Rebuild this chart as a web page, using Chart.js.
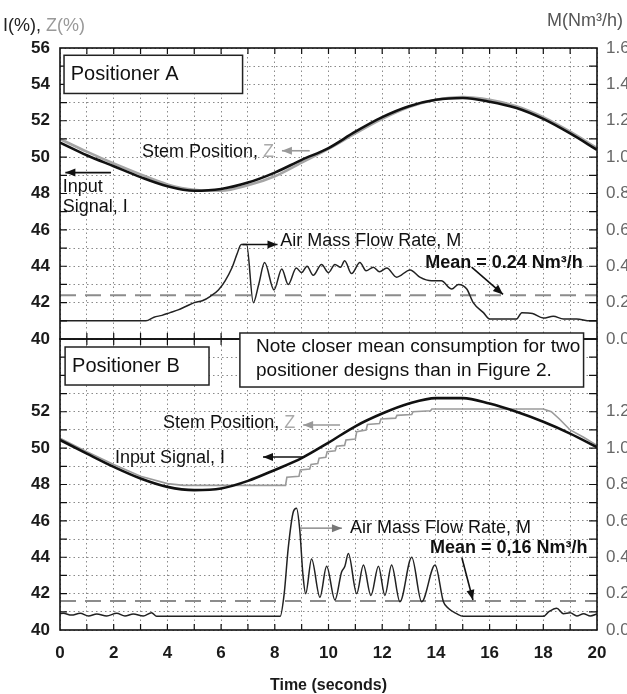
<!DOCTYPE html>
<html>
<head>
<meta charset="utf-8">
<script src="https://cdn.jsdelivr.net/npm/chart.js@4.4.1/dist/chart.umd.min.js"></script>
<style>
  html, body { margin: 0; padding: 0; background: #fff; overflow: hidden; }
  #wrap { position: relative; width: 640px; height: 694px; }
</style>
</head>
<body>
<div id="wrap"><canvas id="chart"></canvas></div>
<script>
// time axis, seconds
const tSec = [0,1,2,3,4,5,6,7,8,9,10,11,12,13,14,15,16,17,18,19,20];

// Positioner A: input signal I and stem position Z (%)
const inputA = [50.8,50.1,49.5,48.9,48.4,48.15,48.25,48.6,49.15,49.85,50.5,51.4,52.2,52.8,53.15,53.25,53.05,52.7,52.1,51.3,50.4];
const stemA  = [51.0,50.3,49.65,49.05,48.5,48.2,48.15,48.45,48.95,49.7,50.45,51.3,52.1,52.75,53.15,53.3,53.15,52.8,52.2,51.4,50.5];

// Positioner A: air mass flow rate M (Nm3/h)
const flowTimeA = [0,3.2,3.5,3.8,4.1,4.4,4.7,5.0,5.3,5.6,5.9,6.15,6.4,6.6,6.75,6.95,7.2,7.4,7.62,7.97,8.26,8.5,8.8,9.0,9.2,9.43,9.74,10.0,10.24,10.45,10.6,10.86,11.17,11.4,11.67,11.9,12.17,12.54,13.04,13.4,13.84,14.2,14.59,14.84,15.15,15.39,15.77,16.0,17.0,17.2,17.6,18.0,18.37,18.75,19.24,19.74,20];
const flowA     = [0.10,0.10,0.12,0.13,0.145,0.16,0.18,0.20,0.21,0.235,0.27,0.32,0.39,0.47,0.52,0.52,0.20,0.30,0.42,0.27,0.385,0.30,0.39,0.365,0.40,0.35,0.41,0.365,0.41,0.395,0.43,0.36,0.42,0.375,0.395,0.37,0.39,0.34,0.38,0.34,0.32,0.32,0.275,0.30,0.275,0.20,0.145,0.11,0.11,0.145,0.14,0.115,0.125,0.11,0.11,0.10,0.10];
const meanA = 0.24;

// Positioner B: input signal I (%)
const inputB = [50.45,49.7,48.97,48.33,47.87,47.69,47.78,48.2,48.8,49.45,50.3,51.2,51.9,52.45,52.75,52.75,52.45,52.0,51.45,50.8,50.05];

// Positioner B: stem position Z (%), stepwise
const stemTimeB = [0,1,2,3,4,4.6,8.4,8.45,8.9,8.95,9.3,9.35,9.6,9.65,9.9,9.95,10.25,10.3,10.6,10.65,11.0,11.05,11.4,11.45,11.9,11.95,12.5,12.55,13.1,13.15,13.8,13.85,18.0,18.3,18.6,19.0,19.5,20];
const stemB     = [50.55,49.8,49.1,48.45,48.05,47.95,47.95,48.4,48.45,48.8,48.85,49.1,49.15,49.45,49.5,49.8,49.85,50.1,50.15,50.45,50.5,50.9,51.0,51.3,51.35,51.6,51.65,51.8,51.85,52.0,52.05,52.15,52.15,52.0,51.6,51.0,50.6,50.15];

// Positioner B: air mass flow rate M (Nm3/h)
const flowTimeB = [0,0.12,0.43,0.75,1.06,1.37,1.74,2.11,2.42,2.73,3.1,3.41,3.6,8.2,8.35,8.5,8.69,8.81,8.93,9.05,9.15,9.37,9.68,9.93,10.24,10.49,10.61,10.74,11.05,11.3,11.58,11.86,12.1,12.35,12.66,13.1,13.47,13.97,14.28,14.46,14.77,15.02,18.0,18.2,18.5,18.75,19.0,19.25,19.5,19.75,20];
const flowB     = [0.09,0.092,0.082,0.092,0.077,0.088,0.077,0.092,0.077,0.088,0.077,0.095,0.075,0.075,0.20,0.45,0.65,0.67,0.55,0.30,0.20,0.39,0.18,0.35,0.165,0.32,0.35,0.42,0.20,0.357,0.19,0.35,0.19,0.357,0.155,0.40,0.155,0.357,0.155,0.12,0.09,0.075,0.075,0.10,0.12,0.09,0.095,0.077,0.09,0.077,0.088];
const meanB = 0.16;

const W = 640;
const FONT = "'Liberation Sans', Arial, sans-serif";
const pts = (xs, ys) => xs.map((x, i) => ({x: x, y: ys[i]}));

const lineBase = {pointRadius: 0, fill: false};
const datasets = [
  Object.assign({data: pts(tSec, inputA), yAxisID: 'yA', borderColor: '#111', borderWidth: 2.6, cubicInterpolationMode: 'monotone', order: 1}, lineBase),
  Object.assign({data: pts(tSec, stemA), yAxisID: 'yA', borderColor: '#a5a5a5', borderWidth: 2.6, cubicInterpolationMode: 'monotone', order: 2}, lineBase),
  Object.assign({data: pts(flowTimeA, flowA), yAxisID: 'mA', borderColor: '#222', borderWidth: 1.5, cubicInterpolationMode: 'monotone', order: 0}, lineBase),
  Object.assign({data: [{x: 0, y: meanA}, {x: 20, y: meanA}], yAxisID: 'mA', borderColor: '#8c8c8c', borderWidth: 2, borderDash: [16, 9], order: 3}, lineBase),
  Object.assign({data: pts(tSec, inputB), yAxisID: 'yB', borderColor: '#111', borderWidth: 2.6, cubicInterpolationMode: 'monotone', order: 1}, lineBase),
  Object.assign({data: pts(stemTimeB, stemB), yAxisID: 'yB', borderColor: '#9a9a9a', borderWidth: 1.6, order: 2}, lineBase),
  Object.assign({data: pts(flowTimeB, flowB), yAxisID: 'mB', borderColor: '#222', borderWidth: 1.5, cubicInterpolationMode: 'monotone', order: 0}, lineBase),
  Object.assign({data: [{x: 0, y: meanB}, {x: 20, y: meanB}], yAxisID: 'mB', borderColor: '#8c8c8c', borderWidth: 2, borderDash: [16, 9], order: 3}, lineBase)
];

const gridOpts = {color: '#8a8a8a', lineWidth: 1, drawTicks: false};
const leftTicks = (maxLbl) => ({
  stepSize: 1, autoSkip: false, padding: 10, color: '#1a1a1a',
  font: {family: FONT, size: 17, weight: 'bold'},
  callback: v => (v % 2 === 0 && v <= maxLbl) ? v : ''
});
const rightTicks = (maxLbl) => ({
  stepSize: 0.2, autoSkip: false, padding: 9, color: '#666',
  font: {family: FONT, size: 17},
  callback: v => (v <= maxLbl + 0.05) ? v.toFixed(1) : ''
});

function arrow(ctx, x1, y1, x2, y2, color, w) {
  ctx.save();
  ctx.strokeStyle = color; ctx.fillStyle = color; ctx.lineWidth = w;
  ctx.beginPath(); ctx.moveTo(x1, y1); ctx.lineTo(x2, y2); ctx.stroke();
  const a = Math.atan2(y2 - y1, x2 - x1), L = 10, H = 4;
  ctx.beginPath();
  ctx.moveTo(x2, y2);
  ctx.lineTo(x2 - L * Math.cos(a) + H * Math.sin(a), y2 - L * Math.sin(a) - H * Math.cos(a));
  ctx.lineTo(x2 - L * Math.cos(a) - H * Math.sin(a), y2 - L * Math.sin(a) + H * Math.cos(a));
  ctx.closePath(); ctx.fill();
  ctx.restore();
}

// text runs: [[text, color], ...] drawn one after another
function runs(ctx, x, y, parts, font) {
  ctx.font = font;
  ctx.textBaseline = 'middle';
  ctx.textAlign = 'left';
  parts.forEach(p => { ctx.fillStyle = p[1]; ctx.fillText(p[0], x, y); x += ctx.measureText(p[0]).width; });
  return x;
}

const decor = {
  id: 'decor',
  afterDatasetsDraw(chart) {
    const ctx = chart.ctx, sx = chart.scales.x;
    const X = t => sx.getPixelForValue(t);
    const reg = '18px ' + FONT, bold = 'bold 18px ' + FONT;

    // panel frames and inward ticks
    ['yA', 'yB'].forEach(id => {
      const s = chart.scales[id];
      ctx.save();
      ctx.strokeStyle = '#111'; ctx.lineWidth = 1.2;
      ctx.beginPath();
      for (let v = 41; v < 56; v++) {
        const y = s.getPixelForValue(v);
        ctx.moveTo(sx.left, y); ctx.lineTo(sx.left + 7, y);
        ctx.moveTo(sx.right, y); ctx.lineTo(sx.right - 8, y);
      }
      for (let t = 1; t < 20; t++) {
        const x = X(t);
        ctx.moveTo(x, s.top); ctx.lineTo(x, s.top + 6);
        ctx.moveTo(x, s.bottom); ctx.lineTo(x, s.bottom - 6);
      }
      ctx.stroke();
      ctx.lineWidth = 1.6;
      ctx.strokeRect(sx.left, s.top, sx.right - sx.left, s.bottom - s.top);
      ctx.restore();
    });

    const box = (id, t0, t1, v0, v1) => {
      const s = chart.scales[id];
      const x0 = X(t0), x1 = X(t1), y0 = s.getPixelForValue(v0), y1 = s.getPixelForValue(v1);
      ctx.save();
      ctx.fillStyle = '#fff'; ctx.fillRect(x0, y0, x1 - x0, y1 - y0);
      ctx.strokeStyle = '#222'; ctx.lineWidth = 1.5; ctx.strokeRect(x0, y0, x1 - x0, y1 - y0);
      ctx.restore();
    };

    const A = v => chart.scales.yA.getPixelForValue(v);
    const B = v => chart.scales.yB.getPixelForValue(v);

    // ---- Positioner A panel
    box('yA', 0.15, 6.8, 55.6, 53.5);
    runs(ctx, X(0.4), A(54.55), [['Positioner A', '#111']], '20px ' + FONT);

    let xe = runs(ctx, X(3.05), A(50.3), [['Stem Position, ', '#111'], ['Z', '#aaa']], reg);
    arrow(ctx, X(9.3), A(50.35), xe + 8, A(50.35), '#999', 1.6);

    runs(ctx, X(0.1), A(48.35), [['Input', '#111']], reg);
    runs(ctx, X(0.1), A(47.25), [['Signal, I', '#111']], reg);
    arrow(ctx, X(1.9), A(49.15), X(0.2), A(49.15), '#111', 1.6);

    arrow(ctx, X(6.8), A(45.2), X(8.1), A(45.2), '#111', 1.4);
    runs(ctx, X(8.2), A(45.4), [['Air Mass Flow Rate, M', '#111']], reg);

    runs(ctx, X(13.6), A(44.2), [['Mean = 0.24 Nm\u00b3/h', '#111']], bold);
    arrow(ctx, X(15.33), A(43.95), X(16.5), A(42.45), '#111', 1.6);

    // ---- Positioner B panel
    box('yB', 6.7, 19.5, 56.33, 53.36);
    runs(ctx, X(7.3), B(55.56), [['Note closer mean consumption for two', '#111']], '19px ' + FONT);
    runs(ctx, X(7.3), B(54.24), [['positioner designs than in Figure 2.', '#111']], '19px ' + FONT);

    box('yB', 0.19, 5.55, 55.56, 53.47);
    runs(ctx, X(0.45), B(54.5), [['Positioner B', '#111']], '20px ' + FONT);

    xe = runs(ctx, X(3.84), B(51.38), [['Stem Position, ', '#111'], ['Z', '#aaa']], reg);
    arrow(ctx, X(10.43), B(51.27), xe + 8, B(51.27), '#999', 1.6);

    runs(ctx, X(2.05), B(49.46), [['Input Signal, I', '#111']], reg);
    arrow(ctx, X(9.12), B(49.51), X(7.56), B(49.51), '#111', 1.6);

    arrow(ctx, X(8.94), B(45.6), X(10.5), B(45.6), '#777', 1.4);
    runs(ctx, X(10.8), B(45.6), [['Air Mass Flow Rate, M', '#111']], reg);

    runs(ctx, X(13.78), B(44.5), [['Mean = 0,16 Nm\u00b3/h', '#111']], bold);
    arrow(ctx, X(14.97), B(43.96), X(15.38), B(41.65), '#111', 1.6);

    // axis headers
    runs(ctx, 3, 26, [['I(%), ', '#222'], ['Z(%)', '#999']], '18px ' + FONT);
    runs(ctx, 547, 21, [['M(Nm\u00b3/h)', '#555']], '18px ' + FONT);
  }
};

new Chart(document.getElementById('chart'), {
  type: 'line',
  data: {datasets: datasets},
  options: {
    responsive: true,
    maintainAspectRatio: false,
    animation: false,
    layout: {padding: {top: 48, left: 0, right: 0, bottom: 0}},
    plugins: {legend: {display: false}, tooltip: {enabled: false}},
    scales: {
      x: {
        type: 'linear', position: 'bottom', min: 0, max: 20,
        grid: gridOpts,
        border: {display: false, dash: [1.5, 3]},
        ticks: {stepSize: 1, autoSkip: false, maxRotation: 0, padding: 13, color: '#1a1a1a',
          font: {family: FONT, size: 17, weight: 'bold'},
          callback: v => v % 2 === 0 ? v : ''},
        title: {display: true, text: 'Time (seconds)', color: '#1a1a1a',
          font: {family: FONT, size: 16, weight: 'bold', lineHeight: 1}, padding: {top: 0, bottom: 0}},
        afterFit: s => { s.height = 64; }
      },
      // left stack is laid out bottom-up (B then A), right stack top-down (A then B)
      yB: {
        type: 'linear', position: 'left', stack: 'left', stackWeight: 1, min: 40, max: 56,
        grid: gridOpts, border: {display: false, dash: [1.5, 3]},
        ticks: leftTicks(52),
        afterFit: s => { s.width = 60; }
      },
      yA: {
        type: 'linear', position: 'left', stack: 'left', stackWeight: 1, min: 40, max: 56,
        grid: gridOpts, border: {display: false, dash: [1.5, 3]},
        ticks: leftTicks(56),
        afterFit: s => { s.width = 60; }
      },
      mA: {
        type: 'linear', position: 'right', stack: 'right', stackWeight: 1, min: 0, max: 1.6,
        grid: {display: false, drawTicks: false}, border: {display: false},
        ticks: rightTicks(1.6),
        afterFit: s => { s.width = W - 597; }
      },
      mB: {
        type: 'linear', position: 'right', stack: 'right', stackWeight: 1, min: 0, max: 1.6,
        grid: {display: false, drawTicks: false}, border: {display: false},
        ticks: rightTicks(1.2),
        afterFit: s => { s.width = W - 597; }
      }
    }
  },
  plugins: [decor]
});
</script>
</body>
</html>
